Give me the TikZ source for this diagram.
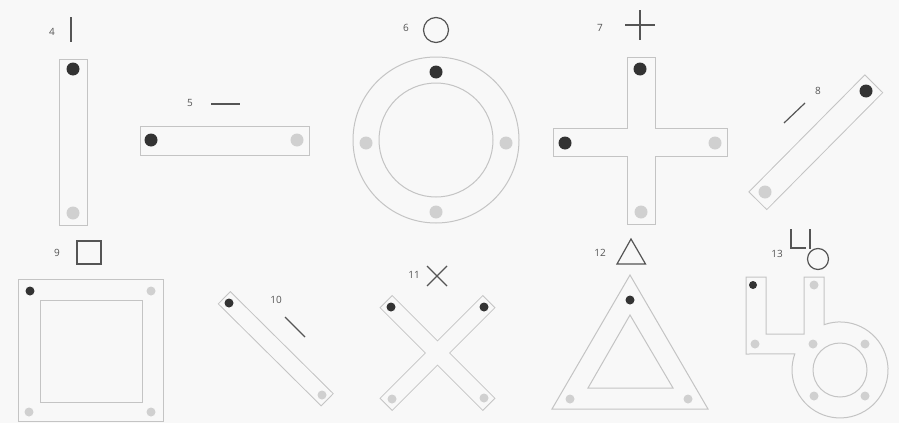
\documentclass[tikz,border=0pt]{standalone}
\usepackage{fontspec}
\setmainfont{Open Sans}
\begin{document}
\begin{tikzpicture}[x=1pt,y=-1pt]
\definecolor{bg}{HTML}{F8F8F8}
\definecolor{edge}{HTML}{C4C4C4}
\definecolor{icon}{HTML}{555555}
\definecolor{dk}{HTML}{333333}
\definecolor{lt}{HTML}{D0D0D0}
\tikzset{
  plate/.style={draw=edge, line width=1pt},
  iconline/.style={draw=icon, line width=1.2pt},
  lbl/.style={text=icon, font=\fontsize{10}{12}\selectfont, inner sep=0pt},
  darkdot/.style={fill=dk},
  lightdot/.style={fill=lt},
  barout/.style={draw=edge, line cap=rect, line width=#1},
  barin/.style={draw=bg, line cap=rect, line width=#1},
}
\fill[bg] (0,0) rectangle (899,423);
\useasboundingbox (0,0) rectangle (899,423);

% labels
\node[lbl] (l4) at (52,32) {4};
\node[lbl] (l5) at (190,103) {5};
\node[lbl] (l6) at (406,28) {6};
\node[lbl] (l7) at (600,28) {7};
\node[lbl] (l8) at (818,91) {8};
\node[lbl] (l9) at (57,253) {9};
\node[lbl] (l10) at (276,300) {10};
\node[lbl] (l11) at (414,275) {11};
\node[lbl] (l12) at (600,253) {12};
\node[lbl] (l13) at (777,254) {13};

% icons
\draw[iconline] (71,17) -- (71,42);
\draw[iconline] (211,104) -- (240,104);
\draw[iconline] (436,30) circle (12.5);
\draw[iconline] (625,25) -- (655,25) (640,10) -- (640,40);
\draw[iconline] (784,123) -- (805,103);
\draw[iconline] (77,241) rectangle (101,264);
\draw[iconline] (285,317) -- (305,337);
\draw[iconline] (427,266) -- (447,286) (427,286) -- (447,266);
\draw[iconline] (631,239) -- (617,264) -- (645.5,264) -- cycle;
\draw[iconline] (791,229) -- (791,248) -- (806,248);
\draw[iconline] (810,229) -- (810,249);
\draw[iconline] (818,259) circle (10.5);

% 4
\draw[plate] (59,59) rectangle (87,225);
\fill[darkdot] (73,69) circle (6.5);
\fill[lightdot] (73,213) circle (6.5);

% 5
\draw[plate] (140,126) rectangle (309,155);
\fill[darkdot] (151,140) circle (6.5);
\fill[lightdot] (297,140) circle (6.5);

% 6
\draw[plate] (436,140) circle (83);
\draw[plate] (436,140) circle (57);
\fill[darkdot] (436,72) circle (6.5);
\fill[lightdot] (366,143) circle (6.5);
\fill[lightdot] (506,143) circle (6.5);
\fill[lightdot] (436,212) circle (6.5);

% 7
\draw[plate] (627,57) -- (655,57) -- (655,128) -- (727,128) -- (727,156) -- (655,156)
  -- (655,224) -- (627,224) -- (627,156) -- (553,156) -- (553,128) -- (627,128) -- cycle;
\fill[darkdot] (640,69) circle (6.5);
\fill[darkdot] (565,143) circle (6.5);
\fill[lightdot] (715,143) circle (6.5);
\fill[lightdot] (641,212) circle (6.5);

% 8
\draw[barout=26pt] (766.7,191.8) -- (864.9,92.7);
\draw[barin=24pt] (766.7,191.8) -- (864.9,92.7);
\fill[darkdot] (866,91) circle (6.5);
\fill[lightdot] (765,192) circle (6.5);

% 9
\draw[plate] (18,279) rectangle (163,421.5);
\draw[plate] (40,300) rectangle (142,402);
\fill[darkdot] (30,291) circle (4.5);
\fill[lightdot] (151,291) circle (4.5);
\fill[lightdot] (29,412) circle (4.5);
\fill[lightdot] (151,412) circle (4.5);

% 10
\draw[barout=18pt] (230.4,303.8) -- (321.1,393.7);
\draw[barin=16pt] (230.4,303.8) -- (321.1,393.7);
\fill[darkdot] (229,303) circle (4.5);
\fill[lightdot] (322,395) circle (4.5);

% 11
\draw[barout=18pt] (392.2,307.7) -- (482.8,398.3);
\draw[barout=18pt] (482.8,307.7) -- (392.2,398.3);
\draw[barin=16pt] (392.2,307.7) -- (482.8,398.3);
\draw[barin=16pt] (482.8,307.7) -- (392.2,398.3);
\fill[darkdot] (391,307) circle (4.5);
\fill[darkdot] (484,307) circle (4.5);
\fill[lightdot] (392,399) circle (4.5);
\fill[lightdot] (484,398) circle (4.5);

% 12
\draw[plate] (630,275) -- (552,409) -- (708,409) -- cycle;
\draw[plate] (630,315) -- (588,388) -- (673,388) -- cycle;
\fill[darkdot] (630,300) circle (4.5);
\fill[lightdot] (570,399) circle (4.5);
\fill[lightdot] (688,399) circle (4.5);

% 13
\draw[plate] (746,277) -- (766,277) -- (766,334) -- (804,334) -- (804,277) -- (824,277)
  -- (824,324.7) arc[start angle=-109.5, end angle=199.5, radius=48] -- (746,354) -- cycle;
\draw[plate] (840,370) circle (27);
\fill[darkdot] (753,285) circle (4);
\fill[lightdot] (814,285) circle (4.5);
\fill[lightdot] (755,344) circle (4.5);
\fill[lightdot] (813,344) circle (4.5);
\fill[lightdot] (865,344) circle (4.5);
\fill[lightdot] (814,396) circle (4.5);
\fill[lightdot] (865,396) circle (4.5);
\end{tikzpicture}
\end{document}
